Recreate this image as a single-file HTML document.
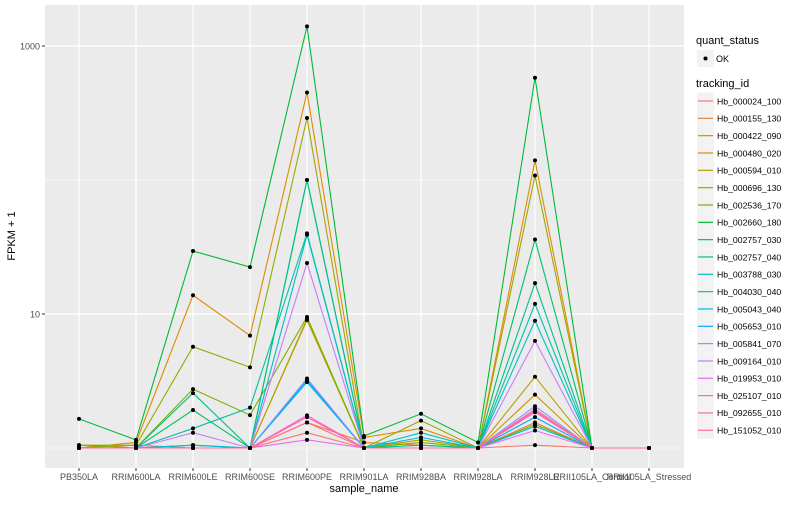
<!DOCTYPE html>
<html><head><meta charset="utf-8"><style>
body{margin:0;background:#fff;font-family:"Liberation Sans",sans-serif}
svg text{font-family:"Liberation Sans",sans-serif}
</style></head><body>
<svg id="chart" width="800" height="500" xmlns="http://www.w3.org/2000/svg">
<rect x="0" y="0" width="800" height="500" fill="#fff"/>
<rect x="45" y="5" width="639" height="463" fill="#EBEBEB"/>
<g id="grid"></g><g id="lines"></g><g id="pts"></g><g id="axes"></g><g id="legend"></g>
</svg>
<script>
const samples=["PB350LA","RRIM600LA","RRIM600LE","RRIM600SE","RRIM600PE","RRIM901LA","RRIM928BA","RRIM928LA","RRIM928LE","RRII105LA_Control","RRII105LA_Stressed"];
const trackingIds=["Hb_000024_100","Hb_000155_130","Hb_000422_090","Hb_000480_020","Hb_000594_010","Hb_000696_130","Hb_002536_170","Hb_002660_180","Hb_002757_030","Hb_002757_040","Hb_003788_030","Hb_004030_040","Hb_005043_040","Hb_005653_010","Hb_005841_070","Hb_009164_010","Hb_019953_010","Hb_025107_010","Hb_092655_010","Hb_151052_010"];
const colors=["#F8766D","#EC8239","#DE8C00","#CD9600","#B79F00","#9DA700","#7CAE00","#00BA38","#00BE67","#00C08B","#00C1AA","#00BFC4","#00BBDB","#00A9FF","#8494FF","#C77CFF","#E76BF3","#FD61D1","#FF67A4","#FF6C91"];
const s01=[1,1,1,1,1.3,1,1,1,1.05,1,1];
const s02=[1,1.05,1,1,1.55,1.1,1.05,1,1.55,1,1];
const s03=[1,1.1,13.8,6.9,450,1.2,1.4,1,140,1,1];
const s04=[1,1,1,1,9.2,1,1,1,2.5,1,1];
const s05=[1,1,1,1,9,1,1.15,1,3.4,1,1];
const s06=[1.05,1.05,5.7,4.0,290,1,1.6,1,108,1,1];
const s07=[1.05,1,2.75,1.76,9.5,1,1.1,1,1.5,1,1];
const s08=[1.65,1.15,29.5,22.4,1400,1.23,1.8,1.1,580,1,1];
const s09=[1,1,1.92,1,100,1,1,1,36,1,1];
const s10=[1,1,2.57,1,100,1,1.05,1,17,1,1];
const s11=[1,1,1.4,2.0,40,1,1,1,11.9,1,1];
const s12=[1,1,1.05,1,39,1,1.3,1,8.9,1,1];
const s13=[1,1,1.05,1,3.1,1,1.2,1,1.45,1,1];
const s14=[1,1,1,1,3.2,1,1,1,1.7,1,1];
const s15=[1,1,1,1,3.3,1,1,1,2.05,1,1];
const s16=[1,1,1.3,1,24,1,1,1,6.3,1,1];
const s17=[1,1,1,1,1.15,1,1,1,1.35,1,1];
const s18=[1,1,1,1,1.75,1,1,1,1.9,1,1];
const s19=[1,1,1,1,1.7,1,1,1,1.85,1,1];
const s20=[1,1,1,1,1.55,1,1,1,1.95,1,1];
const series=[s01,s02,s03,s04,s05,s06,s07,s08,s09,s10,s11,s12,s13,s14,s15,s16,s17,s18,s19,s20];
const yTicks=[10,1000];
const yMinor=[1,100];
const NS="http://www.w3.org/2000/svg";
const xS=i=>79+i*57;
const yS=v=>448-Math.log10(v)*134;
function mk(tag,attrs,parent,text){const e=document.createElementNS(NS,tag);for(const k in attrs)e.setAttribute(k,attrs[k]);if(text!==undefined)e.textContent=text;document.getElementById(parent).appendChild(e);return e;}
yMinor.forEach(v=>{const e=mk('line',{x1:45,x2:684,y1:yS(v),y2:yS(v),stroke:'#fff','stroke-width':0.6},'grid');

});
yTicks.forEach(v=>{const e=mk('line',{x1:45,x2:684,y1:yS(v),y2:yS(v),stroke:'#fff','stroke-width':1.2},'grid');


const t=mk('text',{x:40,y:yS(v)+3.5,'text-anchor':'end','font-size':9,fill:'#4d4d4d'},'axes',String(v));


const tk=mk('line',{x1:42,x2:45,y1:yS(v),y2:yS(v),stroke:'#333','stroke-width':1},'axes');

});
samples.forEach((s,i)=>{const g=mk('line',{x1:xS(i),x2:xS(i),y1:5,y2:468,stroke:'#fff','stroke-width':1.2},'grid');


const tk=mk('line',{x1:xS(i),x2:xS(i),y1:468,y2:471,stroke:'#333','stroke-width':1},'axes');


const t=mk('text',{x:xS(i),y:480,'text-anchor':'middle','font-size':9,fill:'#4d4d4d'},'axes',s);

});
series.forEach((d,k)=>{const p=mk('polyline',{points:d.map((v,i)=>xS(i)+','+yS(v)).join(' '),fill:'none',stroke:colors[k],'stroke-width':1.1},'lines');


d.forEach((v,i)=>{const c=mk('circle',{cx:xS(i),cy:yS(v),r:2,fill:'#000'},'pts');

});});
const xt=mk('text',{x:364,y:492,'text-anchor':'middle','font-size':11,fill:'#000'},'axes','sample_name');


const yt=mk('text',{x:0,y:0,'text-anchor':'middle','font-size':11,fill:'#000',transform:'translate(15,236) rotate(-90)'},'axes','FPKM + 1');


const lt1=mk('text',{x:696,y:44,'font-size':11,fill:'#000'},'legend','quant_status');


const kb=mk('rect',{x:697,y:50,width:17,height:17,fill:'#F2F2F2'},'legend');


const kd=mk('circle',{cx:705.5,cy:58.5,r:2,fill:'#000'},'legend');


const ko=mk('text',{x:716,y:62,'font-size':9,fill:'#000'},'legend','OK');


const lt2=mk('text',{x:696,y:87,'font-size':11,fill:'#000'},'legend','tracking_id');


trackingIds.forEach((id,k)=>{const y=101+k*17.33;
const r=mk('rect',{x:697,y:y-8.5,width:17,height:17,fill:'#F2F2F2'},'legend');


const l=mk('line',{x1:698,x2:713,y1:y,y2:y,stroke:colors[k],'stroke-width':1.2},'legend');


const t=mk('text',{x:717,y:y+3.3,'font-size':8.7,fill:'#000'},'legend',id);

});
</script>
</body></html>
